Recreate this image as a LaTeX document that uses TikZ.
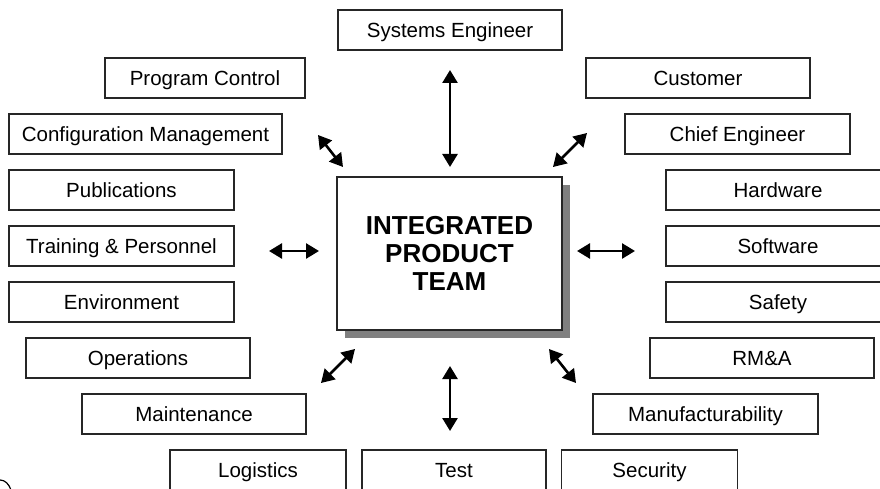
\documentclass[tikz,border=0pt]{standalone}
\usepackage{fontspec}
\setmainfont{Liberation Sans}
\usetikzlibrary{arrows.meta,shadows}
\begin{document}
\begin{tikzpicture}[x=1pt,y=1pt,
  role/.style={draw=black!85, line width=1.2pt, fill=white, minimum height=40pt,
    inner sep=0pt, text height=14.7pt, text depth=0pt,
    font=\fontsize{20.5}{24}\selectfont},
  hub/.style={draw=black!85, line width=1.2pt, fill=white, minimum width=225pt,
    minimum height=153pt, align=center, inner sep=0pt,
    font=\fontsize{26}{28.3}\selectfont\bfseries,
    drop shadow={shadow xshift=8pt, shadow yshift=-8pt, fill=black!50, opacity=1}},
  link/.style={line width=2.6pt,
    {Triangle[length=13pt,width=15pt]}-{Triangle[length=13pt,width=15pt]}}]
\useasboundingbox (0,0) rectangle (880,-489);
\clip (0,0) rectangle (880,-489);

% central team box
\node[hub] (ipt) at (449.5,-253.5) {INTEGRATED\\PRODUCT\\TEAM};

% surrounding disciplines
\node[role, minimum width=224pt] (se)  at (450,-30)   {Systems Engineer};
\node[role, minimum width=200pt] (pc)  at (205,-78)   {Program Control};
\node[role, minimum width=224pt] (cu)  at (698,-78)   {Customer};
\node[role, minimum width=273pt] (cm)  at (145.5,-134) {Configuration Management};
\node[role, minimum width=225pt] (ce)  at (737.5,-134) {Chief Engineer};
\node[role, minimum width=225pt] (pub) at (121.5,-190) {Publications};
\node[role, minimum width=224pt] (hw)  at (778,-190)  {Hardware};
\node[role, minimum width=225pt] (tp)  at (121.5,-246) {Training \& Personnel};
\node[role, minimum width=224pt] (sw)  at (778,-246)  {Software};
\node[role, minimum width=225pt] (env) at (121.5,-302) {Environment};
\node[role, minimum width=224pt] (saf) at (778,-302)  {Safety};
\node[role, minimum width=224pt] (ops) at (138,-358)  {Operations};
\node[role, minimum width=224pt] (rma) at (762,-358)  {RM\&A};
\node[role, minimum width=224pt] (mnt) at (194,-414)  {Maintenance};
\node[role, minimum width=225pt] (mfg) at (705.5,-414) {Manufacturability};
\node[role, minimum width=176pt] (log) at (258,-470)  {Logistics};
\node[role, minimum width=184pt] (tst) at (454,-470)  {Test};
\node[role, minimum width=176pt] (sec) at (649.5,-470) {Security};

% free ends of the two-way links
\coordinate (nA) at (450,-70);   \coordinate (nB) at (450,-167);
\coordinate (nwA) at (318,-135); \coordinate (nwB) at (343,-167);
\coordinate (neA) at (587,-133); \coordinate (neB) at (553,-167);
\coordinate (wA) at (269,-251);  \coordinate (wB) at (319,-251);
\coordinate (eA) at (635,-251);  \coordinate (eB) at (577,-251);
\coordinate (swA) at (321,-383); \coordinate (swB) at (355,-349);
\coordinate (sA) at (450,-431);  \coordinate (sB) at (450,-366);
\coordinate (seA) at (576,-383); \coordinate (seB) at (549,-349);

\draw[link] (nA) -- (nB);
\draw[link] (nwA) -- (nwB);
\draw[link] (neA) -- (neB);
\draw[link] (wA) -- (wB);
\draw[link] (eA) -- (eB);
\draw[link] (swA) -- (swB);
\draw[link] (sA) -- (sB);
\draw[link] (seA) -- (seB);

% stray curve at the lower left corner
\draw[line width=1.2pt] (0,-480) .. controls (5,-480) and (9,-484) .. (11,-490);
\end{tikzpicture}
\end{document}
